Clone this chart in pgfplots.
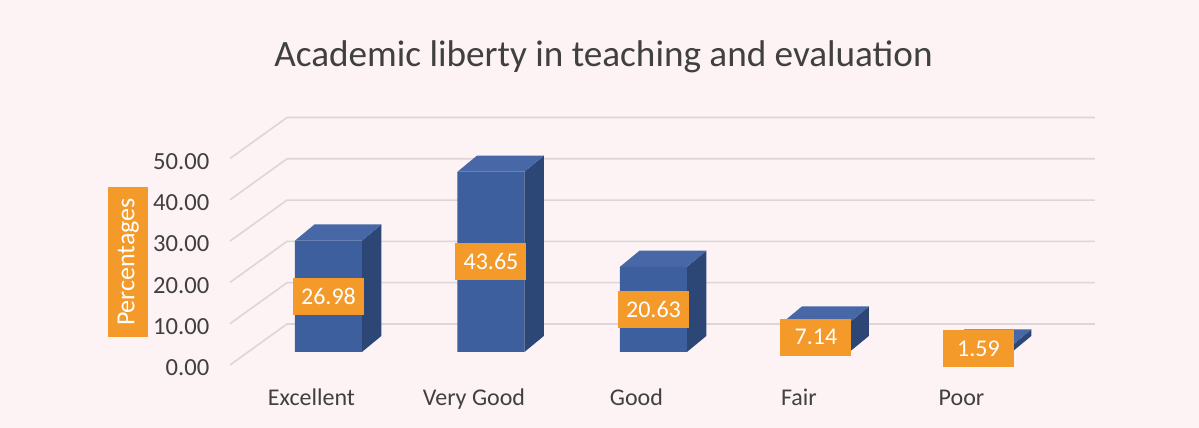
\documentclass[border=0pt]{standalone}
\usepackage{pgfplots}
\pgfplotsset{compat=1.18}
\usepackage{pgfplotstable}
\usepackage{fontspec}
\setmainfont{Carlito}
\definecolor{bgpink}{HTML}{FDF3F4}
\definecolor{gridc}{HTML}{DDD5D6}
\definecolor{barfront}{HTML}{3E5F9E}
\definecolor{bartop}{HTML}{4767A6}
\definecolor{barside}{HTML}{2C4676}
\definecolor{lblorange}{HTML}{F39A2B}
\definecolor{txt}{HTML}{404040}

\pgfplotstableread{
i v
0 26.98
1 43.65
2 20.63
3 7.14
4 1.59
}\data

\begin{document}
\begin{tikzpicture}
\fill[bgpink] (-119.55bp,-29.75bp) rectangle (479.95bp,184.25bp);
\begin{axis}[
  at={(0,0)}, anchor=south west,
  scale only axis, width=430.625bp, height=125.965bp,
  xmin=-0.55, xmax=4.75, ymin=-4, ymax=57,
  clip=false,
  axis line style={draw=none},
  major tick length=0pt,
  tick style={draw=none},
  /pgf/number format/assume math mode=true,
  ytick={0,10,20,30,40,50},
  yticklabel style={/pgf/number format/fixed, /pgf/number format/fixed zerofill,
    /pgf/number format/precision=2, anchor=base east, xshift=-11.4bp, yshift=-11.85bp,
    font=\fontsize{12.3bp}{14bp}\selectfont, text=txt},
  xtick={0,1,2,3,4},
  xticklabels={Excellent,Very Good,Good,Fair,Poor},
  xticklabel style={anchor=base, xshift=-8.5bp, yshift=-18.25bp,
    font=\fontsize{12bp}{14bp}\selectfont, text=txt},
  title={Academic liberty in teaching and evaluation},
  title style={at={(rel axis cs:0.4231,1.1531)}, anchor=base, yshift=0pt,
    font=\fontsize{18.6bp}{22bp}\selectfont, text=txt},
  ylabel={Percentages},
  ylabel style={at={(rel axis cs:-0.1290,0.4227)}, anchor=center,
    fill=lblorange, text=white, minimum width=75bp, minimum height=20bp,
    text height=9.5bp, text depth=3bp, inner xsep=2bp, inner ysep=3.75bp,
    font=\fontsize{13bp}{15bp}\selectfont},
]
% gridlines (3-D wall)
\addplot[gridc, line width=0.8bp] coordinates {(-0.606,-3.15) (-0.255,6.78) (4.717,6.78)};
\addplot[gridc, line width=0.8bp] coordinates {(-0.606,6.85) (-0.255,16.78) (4.717,16.78)};
\addplot[gridc, line width=0.8bp] coordinates {(-0.606,16.85) (-0.255,26.78) (4.717,26.78)};
\addplot[gridc, line width=0.8bp] coordinates {(-0.606,26.85) (-0.255,36.78) (4.717,36.78)};
\addplot[gridc, line width=0.8bp] coordinates {(-0.606,36.85) (-0.255,46.78) (4.717,46.78)};
\addplot[gridc, line width=0.8bp] coordinates {(-0.606,46.85) (-0.255,56.78) (4.717,56.78)};
% side faces
\addplot[fill=barside, draw=none] coordinates {(0.206,0) (0.326,3.9) (0.326,30.88) (0.206,26.98)} --cycle;
\addplot[fill=barside, draw=none] coordinates {(1.206,0) (1.326,3.9) (1.326,47.55) (1.206,43.65)} --cycle;
\addplot[fill=barside, draw=none] coordinates {(2.206,0) (2.326,3.9) (2.326,24.53) (2.206,20.63)} --cycle;
\addplot[fill=barside, draw=none] coordinates {(3.206,0) (3.326,3.9) (3.326,11.04) (3.206,7.14)} --cycle;
\addplot[fill=barside, draw=none] coordinates {(4.206,0) (4.326,3.9) (4.326,5.49) (4.206,1.59)} --cycle;
% top faces
\addplot[fill=bartop, draw=none] coordinates {(-0.206,26.98) (-0.086,30.88) (0.326,30.88) (0.206,26.98)} --cycle;
\addplot[fill=bartop, draw=none] coordinates {(0.794,43.65) (0.914,47.55) (1.326,47.55) (1.206,43.65)} --cycle;
\addplot[fill=bartop, draw=none] coordinates {(1.794,20.63) (1.914,24.53) (2.326,24.53) (2.206,20.63)} --cycle;
\addplot[fill=bartop, draw=none] coordinates {(2.794,7.14) (2.914,11.04) (3.326,11.04) (3.206,7.14)} --cycle;
\addplot[fill=bartop, draw=none] coordinates {(3.794,1.59) (3.914,5.49) (4.326,5.49) (4.206,1.59)} --cycle;
% front faces
\addplot[ybar, bar width=0.412, bar shift=0, fill=barfront, draw=none] table[x=i, y=v] {\data};
% value labels
\addplot[draw=none, mark=none, point meta=explicit,
  nodes near coords={\pgfmathprintnumber[fixed, fixed zerofill, precision=2]{\pgfplotspointmeta}},
  nodes near coords align={center},
  every node near coord/.style={fill=lblorange, text=white, minimum width=35.5bp,
    minimum height=18.5bp, inner sep=1bp, font=\fontsize{12bp}{14bp}\selectfont}]
  table[x=i, y expr=\thisrow{v}/2, meta=v] {\data};
\end{axis}
\end{tikzpicture}
\end{document}
